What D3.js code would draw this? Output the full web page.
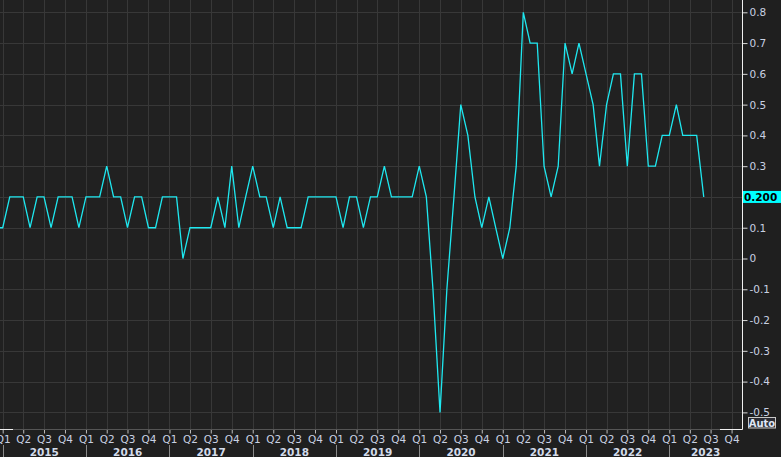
<!DOCTYPE html>
<html>
<head>
<meta charset="utf-8">
<style>
  html, body { margin: 0; padding: 0; background: #1f1f1f; overflow: hidden; }
  svg { display: block; font-family: "DejaVu Sans", sans-serif; }
</style>
<script src="https://d3js.org/d3.v7.min.js"></script>
</head>
<body>
<svg width="781" height="457"></svg>
<script>
// DATA (monthly, first value is Dec 2014)
const firstMonth = new Date(2014, 11, 1);
const values2014 = [0.1];
const values2015 = [0.1, 0.2, 0.2, 0.2, 0.1, 0.2, 0.2, 0.1, 0.2, 0.2, 0.2, 0.1];
const values2016 = [0.2, 0.2, 0.2, 0.3, 0.2, 0.2, 0.1, 0.2, 0.2, 0.1, 0.1, 0.2];
const values2017 = [0.2, 0.2, 0.0, 0.1, 0.1, 0.1, 0.1, 0.2, 0.1, 0.3, 0.1, 0.2];
const values2018 = [0.3, 0.2, 0.2, 0.1, 0.2, 0.1, 0.1, 0.1, 0.2, 0.2, 0.2, 0.2];
const values2019 = [0.2, 0.1, 0.2, 0.2, 0.1, 0.2, 0.2, 0.3, 0.2, 0.2, 0.2, 0.2];
const values2020 = [0.3, 0.2, -0.1, -0.5, -0.1, 0.2, 0.5, 0.4, 0.2, 0.1, 0.2, 0.1];
const values2021 = [0.0, 0.1, 0.3, 0.8, 0.7, 0.7, 0.3, 0.2, 0.3, 0.7, 0.6, 0.7];
const values2022 = [0.6, 0.5, 0.3, 0.5, 0.6, 0.6, 0.3, 0.6, 0.6, 0.3, 0.3, 0.4];
const values2023 = [0.4, 0.5, 0.4, 0.4, 0.4, 0.2];

const years = [2015, 2016, 2017, 2018, 2019, 2020, 2021, 2022, 2023];
const quarterNames = ["Q1", "Q2", "Q3", "Q4"];
const yTicks = [0.8, 0.7, 0.6, 0.5, 0.4, 0.3, 0.2, 0.1, 0, -0.1, -0.2, -0.3, -0.4, -0.5];
const lastLabel = "0.200";

// CONSTANTS
const svg = d3.select("svg");
const plotW = 742;
const plotH = 429;
const lineColor = "#1ee8f0";
const textColor = "#c9d1e2";
const gridColor = "#383838";

const allValues = [].concat(values2014, values2015, values2016, values2017,
  values2018, values2019, values2020, values2021, values2022, values2023);
const data = allValues.map((v, i) => ({ date: d3.timeMonth.offset(firstMonth, i), value: v }));

// SCALES
const xScale = d3.scaleTime()
  .domain([new Date(2015, 0, 1), new Date(2023, 0, 1)])
  .range([2.7, 669.3]);
const yScale = d3.scaleLinear()
  .domain([0, 0.8])
  .range([258.5, 12.3]);

const quarters = d3.timeMonth.every(3).range(new Date(2015, 0, 1), new Date(2023, 11, 1));

// background + grid
svg.append("rect").attr("width", 781).attr("height", 457).attr("fill", "#1f1f1f");
svg.append("rect").attr("width", plotW).attr("height", plotH).attr("fill", "#212121");

const grid = svg.append("g").attr("stroke", gridColor).attr("stroke-width", 1);
grid.selectAll("line.h").data(yTicks).join("line")
  .attr("class", "h")
  .attr("x1", 0).attr("x2", plotW)
  .attr("y1", d => Math.round(yScale(d)) + 0.5)
  .attr("y2", d => Math.round(yScale(d)) + 0.5);
grid.selectAll("line.v").data(quarters).join("line")
  .attr("class", "v")
  .attr("y1", 0).attr("y2", plotH)
  .attr("x1", d => Math.round(xScale(d)) + 0.5)
  .attr("x2", d => Math.round(xScale(d)) + 0.5);

// line
svg.append("clipPath").attr("id", "plotClip")
  .append("rect").attr("width", plotW).attr("height", plotH);

const line = d3.line()
  .x(d => xScale(d.date))
  .y(d => yScale(d.value));

svg.append("path")
  .datum(data)
  .attr("clip-path", "url(#plotClip)")
  .attr("fill", "none")
  .attr("stroke", lineColor)
  .attr("stroke-width", 1.3)
  .attr("stroke-linejoin", "miter")
  .attr("d", line);

// right axis
const yAxis = d3.axisRight(yScale)
  .tickValues(yTicks.filter(d => d !== 0.2))
  .tickSize(5)
  .tickPadding(2)
  .tickFormat(d => d === 0 ? "0" : d.toFixed(1));

const yAxisG = svg.append("g")
  .attr("transform", `translate(${plotW + 0.5},0)`)
  .call(yAxis);
yAxisG.select(".domain").remove();
yAxisG.selectAll(".tick line").attr("stroke", "#d8d8d8");
yAxisG.selectAll(".tick text")
  .attr("fill", textColor)
  .attr("font-size", "10.5px")
  .attr("font-family", "DejaVu Sans, sans-serif");

svg.append("line")
  .attr("x1", plotW + 0.5).attr("x2", plotW + 0.5)
  .attr("y1", 0).attr("y2", plotH + 0.5)
  .attr("stroke", "#f0f0f0");

// bottom axis
const xAxis = d3.axisBottom(xScale)
  .tickValues(quarters)
  .tickSize(4)
  .tickPadding(2)
  .tickFormat(d => quarterNames[Math.floor(d.getMonth() / 3)]);

const xAxisG = svg.append("g")
  .attr("transform", `translate(0,${plotH + 0.5})`)
  .call(xAxis);
xAxisG.select(".domain").remove();
xAxisG.selectAll(".tick line").attr("stroke", "#bbbbbb");
xAxisG.selectAll(".tick text")
  .attr("fill", textColor)
  .attr("font-size", "10.5px")
  .attr("font-family", "DejaVu Sans, sans-serif");

svg.append("line")
  .attr("x1", 0).attr("x2", plotW)
  .attr("y1", plotH + 0.5).attr("y2", plotH + 0.5)
  .attr("stroke", "#555555");
svg.append("line")
  .attr("x1", 0).attr("x2", 13)
  .attr("y1", plotH + 0.5).attr("y2", plotH + 0.5)
  .attr("stroke", "#f0f0f0");
svg.append("line")
  .attr("x1", 720).attr("x2", plotW + 0.5)
  .attr("y1", plotH + 0.5).attr("y2", plotH + 0.5)
  .attr("stroke", "#f0f0f0");

// year row
const yearG = svg.append("g");
yearG.selectAll("line").data(years).join("line")
  .attr("x1", d => Math.round(xScale(new Date(d, 0, 1))) + 0.5)
  .attr("x2", d => Math.round(xScale(new Date(d, 0, 1))) + 0.5)
  .attr("y1", 445).attr("y2", 457)
  .attr("stroke", "#8a8a8a");
yearG.selectAll("text").data(years).join("text")
  .attr("x", d => (xScale(new Date(d, 0, 1)) + Math.min(plotW, xScale(new Date(d + 1, 0, 1)))) / 2)
  .attr("y", 456)
  .attr("text-anchor", "middle")
  .attr("font-size", "10.5px")
  .attr("font-weight", "bold")
  .attr("fill", "#d3dbea")
  .text(d => d);

// last value tag
const lastY = yScale(data[data.length - 1].value);
svg.append("rect")
  .attr("x", plotW + 1).attr("y", lastY - 6)
  .attr("width", 781 - plotW - 1).attr("height", 12)
  .attr("fill", "#00ffff");
svg.append("text")
  .attr("x", plotW + 2).attr("y", lastY + 4)
  .attr("font-size", "10.5px")
  .attr("font-weight", "bold")
  .attr("fill", "#000")
  .text(lastLabel);

// "Auto" button
svg.append("rect")
  .attr("x", 748.5).attr("y", 417.5)
  .attr("width", 27).attr("height", 10.5)
  .attr("fill", "#2c2c34")
  .attr("stroke", "#c8c8c8");
svg.append("text")
  .attr("x", 762).attr("y", 426.5)
  .attr("text-anchor", "middle")
  .attr("font-size", "10px")
  .attr("font-weight", "bold")
  .attr("fill", "#dfe6f5")
  .text("Auto");
</script>
</body>
</html>
